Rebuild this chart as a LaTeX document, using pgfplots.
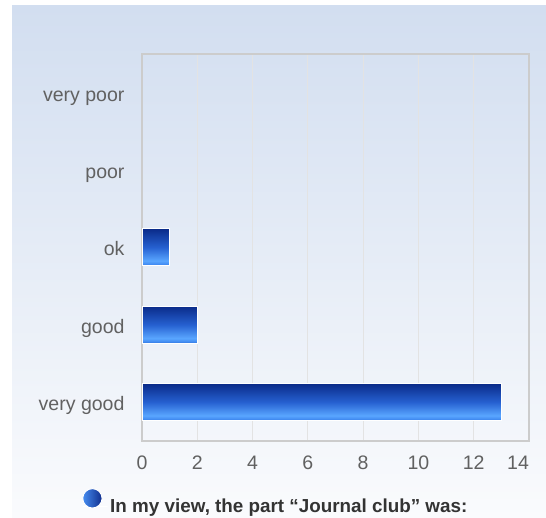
\documentclass[border=0pt]{standalone}
\usepackage{pgfplots}
\pgfplotsset{compat=1.18}
\usepackage{fontspec}
\setmainfont{Liberation Sans}
\definecolor{bgtop}{RGB}{210,222,240}
\definecolor{bgbot}{RGB}{250,251,253}
\definecolor{ballL}{RGB}{70,140,240}
\definecolor{ballR}{RGB}{15,45,140}
\pgfdeclareverticalshading{barshade}{100bp}{%
  rgb(0bp)=(0.17,0.42,0.83);
  rgb(25bp)=(0.17,0.42,0.83);
  rgb(27.5bp)=(0.26,0.55,0.95);
  rgb(32bp)=(0.35,0.65,1.0);
  rgb(50bp)=(0.15,0.38,0.82);
  rgb(75bp)=(0.04,0.17,0.54);
  rgb(100bp)=(0.04,0.17,0.54)}
\begin{document}
\begin{tikzpicture}[x=1bp,y=1bp]
\path[use as bounding box] (0,0) rectangle (546,518);
\fill[white] (0,0) rectangle (546,518);
\shade[top color=bgtop, bottom color=bgbot] (12,0) rectangle (546,512);
\begin{axis}[
  at={(142bp,77bp)}, anchor=south west,
  scale only axis, width=387bp, height=387bp,
  xmin=0, xmax=14, ymin=-0.5, ymax=4.5,
  xtick={0,2,...,12}, ytick={0,1,2,3,4},
  extra x ticks={14},
  extra x tick style={grid=none, xticklabel style={xshift=-11bp}},
  yticklabels={very good,good,ok,poor,very poor},
  major tick length=0pt,
  xmajorgrids, grid style={draw=black!11, line width=1.2bp},
  axis line style={draw=black!20, line width=1.5bp},
  tick label style={font=\fontsize{19.6}{23}\selectfont, text=black!62},
  xticklabel style={yshift=-11.5bp},
  yticklabel style={anchor=base east, xshift=-14bp, yshift=-8.5bp},
  /pgf/number format/assume math mode=true,
  xbar, bar width=37bp, bar shift=0pt,
  mybar/.style={shading=barshade, draw=white, line width=1bp},
  legend style={at={(-0.155,-0.1577)}, anchor=west, draw=none, fill=none,
    inner sep=0pt, font=\bfseries\fontsize{18.9}{22}\selectfont, text=black!80},
  legend cell align=left,
  legend image code/.code={\path (0,0) rectangle (25bp,0);
    \shade[left color=ballL, right color=ballR] (9.7bp,8bp) circle (9.7bp);},
]
\addplot[mybar] coordinates {(13,0)};
\addlegendentry{In my view, the part “Journal club” was:}
\addplot[mybar, forget plot] coordinates {(2,1)};
\addplot[mybar, forget plot] coordinates {(1,2)};
\addplot[draw=none, fill=none, forget plot] coordinates {(0,3) (0,4)};
\end{axis}
\end{tikzpicture}
\end{document}
